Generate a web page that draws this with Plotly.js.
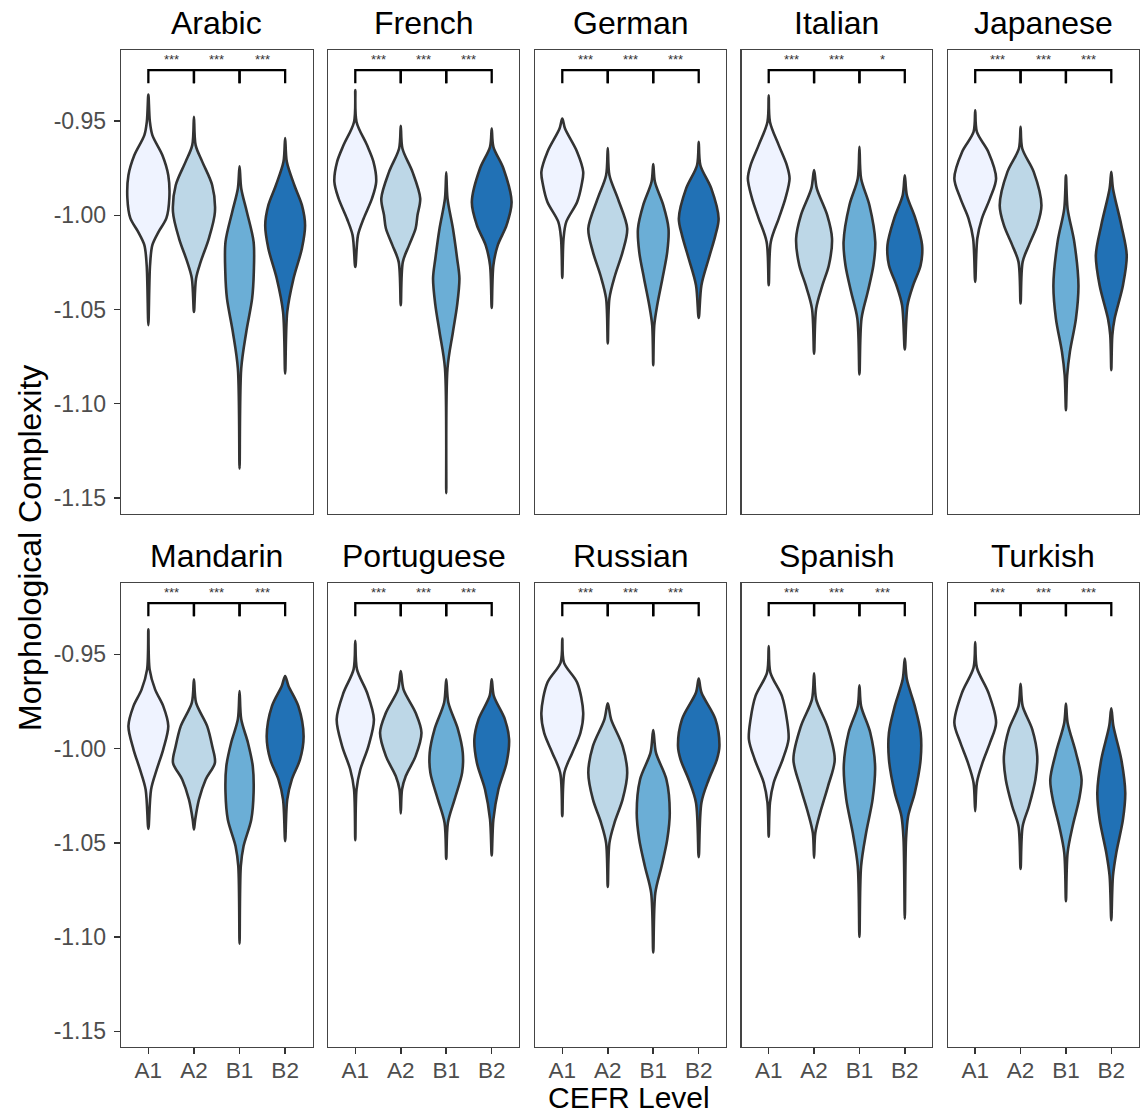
<!DOCTYPE html>
<html>
<head>
<meta charset="utf-8">
<script src="https://cdn.plot.ly/plotly-3.0.1.min.js"></script>
<style>
  html, body { margin: 0; padding: 0; background: #ffffff; }
  #chart { width: 1145px; height: 1114px; }
</style>
</head>
<body>
<div id="chart"></div>
<script>
// ---------------- DATA ----------------
const languages = ['Arabic', 'French', 'German', 'Italian', 'Japanese',
                   'Mandarin', 'Portuguese', 'Russian', 'Spanish', 'Turkish'];
const levels = ['A1', 'A2', 'B1', 'B2'];
const levelColors = ['#eff3ff', '#bdd7e7', '#6baed6', '#2171b5'];

// significance of adjacent-level comparisons (A1-A2, A2-B1, B1-B2)
const sigArabic     = ['***', '***', '***'];
const sigFrench     = ['***', '***', '***'];
const sigGerman     = ['***', '***', '***'];
const sigItalian    = ['***', '***', '*'];
const sigJapanese   = ['***', '***', '***'];
const sigMandarin   = ['***', '***', '***'];
const sigPortuguese = ['***', '***', '***'];
const sigRussian    = ['***', '***', '***'];
const sigSpanish    = ['***', '***', '***'];
const sigTurkish    = ['***', '***', '***'];

const yTickVals = [-1.15, -1.10, -1.05, -1.00, -0.95];
const yTickText = ['-1.15', '-1.10', '-1.05', '-1.00', '-0.95'];

// Violin density profiles: y values (morphological complexity)
// and relative density (1 = widest violin), one list per CEFR level A1, A2, B1, B2.
const arabicY = [
  [-0.9358,-0.9500,-0.9574,-0.9681,-0.9787,-0.9909,-1.0015,-1.0089,-1.0158,-1.0265,-1.0583],
  [-0.9477,-0.9627,-0.9716,-0.9840,-0.9982,-1.0123,-1.0247,-1.0335,-1.0513],
  [-0.9739,-0.9857,-0.9982,-1.0141,-1.0300,-1.0441,-1.0619,-1.0813,-1.1344],
  [-0.9589,-0.9716,-0.9840,-0.9946,-1.0052,-1.0176,-1.0335,-1.0513,-1.0840]];
const arabicD = [
  [0,0.07,0.19,0.67,0.95,1.0,0.86,0.48,0.19,0.08,0],
  [0,0.08,0.40,0.87,1.0,0.71,0.32,0.10,0],
  [0,0.08,0.35,0.67,0.68,0.60,0.32,0.08,0],
  [0,0.08,0.44,0.80,0.95,0.80,0.40,0.10,0]];

const frenchY = [
  [-0.9335,-0.9504,-0.9627,-0.9716,-0.9822,-0.9910,-1.0017,-1.0105,-1.0274],
  [-0.9525,-0.9645,-0.9769,-0.9910,-0.9999,-1.0070,-1.0158,-1.0247,-1.0477],
  [-0.9772,-0.9910,-1.0070,-1.0229,-1.0335,-1.0477,-1.0619,-1.0813,-1.1475],
  [-0.9539,-0.9636,-0.9751,-0.9929,-1.0052,-1.0158,-1.0265,-1.0491]];
const frenchD = [
  [0,0.06,0.56,0.87,1.0,0.80,0.40,0.13,0],
  [0,0.08,0.56,0.93,0.80,0.71,0.40,0.10,0],
  [0,0.06,0.32,0.52,0.63,0.52,0.32,0.06,0],
  [0,0.08,0.56,0.95,0.71,0.29,0.08,0]];

const germanY = [
  [-0.9486,-0.9539,-0.9663,-0.9769,-0.9840,-0.9929,-1.0035,-1.0123,-1.0332],
  [-0.9642,-0.9787,-0.9910,-1.0070,-1.0194,-1.0318,-1.0441,-1.0680],
  [-0.9728,-0.9822,-0.9946,-1.0070,-1.0194,-1.0335,-1.0477,-1.0583,-1.0796],
  [-0.9610,-0.9734,-0.9857,-1.0017,-1.0105,-1.0229,-1.0371,-1.0545]];
const germanD = [
  [0,0.13,0.71,1.0,0.92,0.71,0.19,0.06,0],
  [0,0.08,0.48,0.93,0.71,0.35,0.08,0],
  [0,0.08,0.48,0.73,0.67,0.44,0.19,0.05,0],
  [0,0.08,0.60,0.95,0.80,0.48,0.13,0]];

const italianY = [
  [-0.9362,-0.9504,-0.9627,-0.9734,-0.9804,-0.9910,-1.0017,-1.0141,-1.0371],
  [-0.9760,-0.9857,-0.9999,-1.0123,-1.0265,-1.0371,-1.0495,-1.0734],
  [-0.9636,-0.9804,-0.9946,-1.0141,-1.0265,-1.0406,-1.0548,-1.0845],
  [-0.9787,-0.9893,-1.0017,-1.0158,-1.0265,-1.0371,-1.0477,-1.0712]];
const italianD = [
  [0,0.06,0.48,0.87,1.0,0.80,0.48,0.10,0],
  [0,0.13,0.63,0.86,0.71,0.40,0.10,0],
  [0,0.08,0.48,0.76,0.67,0.40,0.10,0],
  [0,0.10,0.51,0.83,0.76,0.40,0.13,0]];

const japaneseY = [
  [-0.9442,-0.9557,-0.9663,-0.9804,-0.9910,-1.0017,-1.0123,-1.0353],
  [-0.9530,-0.9645,-0.9769,-0.9946,-1.0052,-1.0158,-1.0247,-1.0468],
  [-0.9787,-0.9964,-1.0141,-1.0371,-1.0548,-1.0725,-1.0849,-1.1035],
  [-0.9769,-0.9857,-1.0052,-1.0212,-1.0371,-1.0548,-1.0636,-1.0822]];
const japaneseD = [
  [0,0.08,0.63,1.0,0.71,0.32,0.10,0],
  [0,0.08,0.63,1.0,0.80,0.40,0.10,0],
  [0,0.08,0.40,0.60,0.48,0.19,0.06,0],
  [0,0.08,0.48,0.74,0.56,0.16,0.05,0]];

const mandarinY = [
  [-0.9367,-0.9580,-0.9686,-0.9775,-0.9881,-1.0004,-1.0111,-1.0217,-1.0426],
  [-0.9633,-0.9756,-0.9881,-0.9987,-1.0075,-1.0164,-1.0270,-1.0376,-1.0429],
  [-0.9695,-0.9845,-0.9969,-1.0093,-1.0234,-1.0376,-1.0518,-1.0624,-1.1035],
  [-0.9615,-0.9668,-0.9775,-0.9934,-1.0058,-1.0164,-1.0270,-1.0491]];
const mandarinD = [
  [0,0.06,0.32,0.71,0.95,0.71,0.40,0.13,0],
  [0,0.10,0.63,0.87,1.0,0.56,0.24,0.06,0],
  [0,0.08,0.40,0.63,0.67,0.56,0.19,0.06,0],
  [0,0.16,0.63,0.88,0.71,0.32,0.10,0]];

const portugueseY = [
  [-0.9429,-0.9580,-0.9703,-0.9845,-0.9987,-1.0111,-1.0217,-1.0486],
  [-0.9589,-0.9686,-0.9810,-0.9916,-1.0040,-1.0146,-1.0217,-1.0344],
  [-0.9633,-0.9756,-0.9898,-1.0022,-1.0128,-1.0270,-1.0394,-1.0585],
  [-0.9633,-0.9721,-0.9845,-0.9951,-1.0075,-1.0217,-1.0376,-1.0567]];
const portugueseD = [
  [0,0.08,0.56,0.89,0.63,0.24,0.06,0],
  [0,0.13,0.71,0.99,0.71,0.24,0.06,0],
  [0,0.10,0.56,0.79,0.76,0.40,0.08,0],
  [0,0.10,0.63,0.83,0.71,0.32,0.08,0]];

const russianY = [
  [-0.9417,-0.9544,-0.9650,-0.9810,-0.9916,-1.0022,-1.0128,-1.0359],
  [-0.9760,-0.9845,-0.9987,-1.0128,-1.0270,-1.0394,-1.0500,-1.0734],
  [-0.9902,-1.0022,-1.0164,-1.0341,-1.0482,-1.0624,-1.0765,-1.1082],
  [-0.9629,-0.9703,-0.9845,-0.9987,-1.0058,-1.0164,-1.0287,-1.0576]];
const russianD = [
  [0,0.08,0.71,1.0,0.87,0.48,0.10,0],
  [0,0.16,0.71,0.93,0.71,0.32,0.08,0],
  [0,0.13,0.63,0.79,0.67,0.40,0.10,0],
  [0,0.13,0.80,0.99,0.87,0.48,0.13,0]];

const spanishY = [
  [-0.9456,-0.9597,-0.9721,-0.9845,-0.9951,-1.0058,-1.0181,-1.0287,-1.0468],
  [-0.9601,-0.9739,-0.9881,-1.0058,-1.0199,-1.0341,-1.0447,-1.0580],
  [-0.9665,-0.9775,-0.9916,-1.0093,-1.0270,-1.0447,-1.0624,-1.0999],
  [-0.9523,-0.9633,-0.9775,-0.9916,-1.0058,-1.0234,-1.0359,-1.0482,-1.0902]];
const spanishD = [
  [0,0.08,0.63,0.87,0.95,0.67,0.24,0.06,0],
  [0,0.10,0.63,0.99,0.67,0.29,0.06,0],
  [0,0.08,0.52,0.75,0.63,0.32,0.08,0],
  [0,0.10,0.48,0.76,0.76,0.48,0.16,0.06,0]];

const turkishY = [
  [-0.9435,-0.9571,-0.9703,-0.9863,-0.9969,-1.0075,-1.0181,-1.0332],
  [-0.9656,-0.9775,-0.9898,-1.0040,-1.0164,-1.0306,-1.0412,-1.0638],
  [-0.9762,-0.9863,-1.0022,-1.0164,-1.0270,-1.0412,-1.0553,-1.0810],
  [-0.9787,-0.9881,-1.0058,-1.0234,-1.0376,-1.0553,-1.0677,-1.0911]];
const turkishD = [
  [0,0.08,0.63,1.0,0.71,0.35,0.08,0],
  [0,0.10,0.56,0.80,0.71,0.40,0.10,0],
  [0,0.08,0.48,0.75,0.63,0.32,0.08,0],
  [0,0.10,0.48,0.67,0.56,0.24,0.08,0]];

// ---------------- BUILD ----------------
const profilesY = [arabicY, frenchY, germanY, italianY, japaneseY,
                   mandarinY, portugueseY, russianY, spanishY, turkishY];
const profilesD = [arabicD, frenchD, germanD, italianD, japaneseD,
                   mandarinD, portugueseD, russianD, spanishD, turkishD];
const sigs = [sigArabic, sigFrench, sigGerman, sigItalian, sigJapanese,
              sigMandarin, sigPortuguese, sigRussian, sigSpanish, sigTurkish];

const W = 1145, H = 1114;
const MAX_HALF = 0.46;          // half-width (category units) of the densest violin
const BRACKET_Y = -0.9229, BRACKET_TICK = -0.9298, STAR_Y = -0.9172;
const Y_RANGE = [-1.1583, -0.9122];
const colPx = [[121, 312.5], [328, 519], [535, 726], [741.5, 932], [948, 1138.5]];
const rowPx = [[50, 513.5], [583, 1047]];

const FONT = 'Liberation Sans, Arial, Helvetica, sans-serif';
const traces = [];
const annotations = [];
const layout = {
  width: W, height: H,
  margin: {l: 0, r: 0, t: 0, b: 0},
  paper_bgcolor: '#ffffff', plot_bgcolor: '#ffffff',
  showlegend: false,
  font: {family: FONT, color: '#4d4d4d'},
  annotations: annotations
};

languages.forEach((lang, p) => {
  const n = p + 1;
  const row = Math.floor(p / 5), col = p % 5;
  const xs = n === 1 ? '' : String(n);
  const xa = 'x' + xs, ya = 'y' + xs;
  const cp = colPx[col], rp = rowPx[row];

  layout['xaxis' + xs] = {
    domain: [cp[0] / W, cp[1] / W],
    range: [0.4, 4.6],
    anchor: ya,
    tickvals: [1, 2, 3, 4],
    ticktext: levels,
    showticklabels: row === 1,
    ticks: row === 1 ? 'outside' : '',
    ticklen: 6, tickwidth: 1.5, tickcolor: '#333333',
    tickfont: {size: 22.5, color: '#4d4d4d', family: FONT},
    ticklabelstandoff: -3,
    showline: true, mirror: true, linecolor: '#444444', linewidth: 1.3,
    showgrid: false, zeroline: false, fixedrange: true
  };
  layout['yaxis' + xs] = {
    domain: [1 - rp[1] / H, 1 - rp[0] / H],
    range: Y_RANGE,
    anchor: xa,
    tickvals: yTickVals,
    ticktext: yTickText,
    showticklabels: col === 0,
    ticks: col === 0 ? 'outside' : '',
    ticklen: 6, tickwidth: 1.5, tickcolor: '#333333',
    tickfont: {size: 23, color: '#4d4d4d', family: FONT},
    ticklabelstandoff: 3,
    showline: true, mirror: true, linecolor: '#444444', linewidth: 1.3,
    showgrid: false, zeroline: false, fixedrange: true
  };

  // violins
  levels.forEach((lv, k) => {
    const c = k + 1;
    const yv = profilesY[p][k], dv = profilesD[p][k];
    const px = [], py = [];
    for (let i = 0; i < yv.length; i++) { px.push(c + dv[i] * MAX_HALF); py.push(yv[i]); }
    for (let i = yv.length - 2; i >= 1; i--) { px.push(c - dv[i] * MAX_HALF); py.push(yv[i]); }
    px.push(c); py.push(yv[0]);
    traces.push({
      type: 'scatter', mode: 'lines', x: px, y: py,
      xaxis: xa, yaxis: ya,
      fill: 'toself', fillcolor: levelColors[k],
      line: {color: '#333333', width: 2.6, shape: 'spline', smoothing: 0.9},
      hoverinfo: 'skip', name: lang + ' ' + lv
    });
  });

  // significance brackets
  const bx = [], by = [];
  for (let k = 0; k < 3; k++) {
    bx.push(k + 1, k + 1, k + 2, k + 2, null);
    by.push(BRACKET_TICK, BRACKET_Y, BRACKET_Y, BRACKET_TICK, null);
    annotations.push({
      xref: xa, yref: ya, x: k + 1.5, y: STAR_Y,
      text: sigs[p][k], showarrow: false,
      font: {size: 13, color: '#333333', family: FONT},
      xanchor: 'center', yanchor: 'middle'
    });
  }
  traces.push({
    type: 'scatter', mode: 'lines', x: bx, y: by,
    xaxis: xa, yaxis: ya,
    line: {color: '#000000', width: 2.3},
    hoverinfo: 'skip'
  });

  // facet title
  annotations.push({
    xref: 'paper', yref: 'paper',
    x: (cp[0] + cp[1]) / 2 / W, y: 1 - (rp[0] - 27) / H,
    text: lang, showarrow: false,
    font: {size: 32, color: '#000000', family: FONT},
    xanchor: 'center', yanchor: 'middle'
  });
});

// axis titles
annotations.push({
  xref: 'paper', yref: 'paper', x: 30 / W, y: 1 - 548 / H,
  text: 'Morphological Complexity', textangle: -90, showarrow: false,
  font: {size: 32, color: '#000000', family: FONT},
  xanchor: 'center', yanchor: 'middle'
});
annotations.push({
  xref: 'paper', yref: 'paper', x: 629 / W, y: 1 - 1097 / H,
  text: 'CEFR Level', showarrow: false,
  font: {size: 30, color: '#000000', family: FONT},
  xanchor: 'center', yanchor: 'middle'
});

Plotly.newPlot('chart', traces, layout, {staticPlot: true, displayModeBar: false});
</script>
</body>
</html>
